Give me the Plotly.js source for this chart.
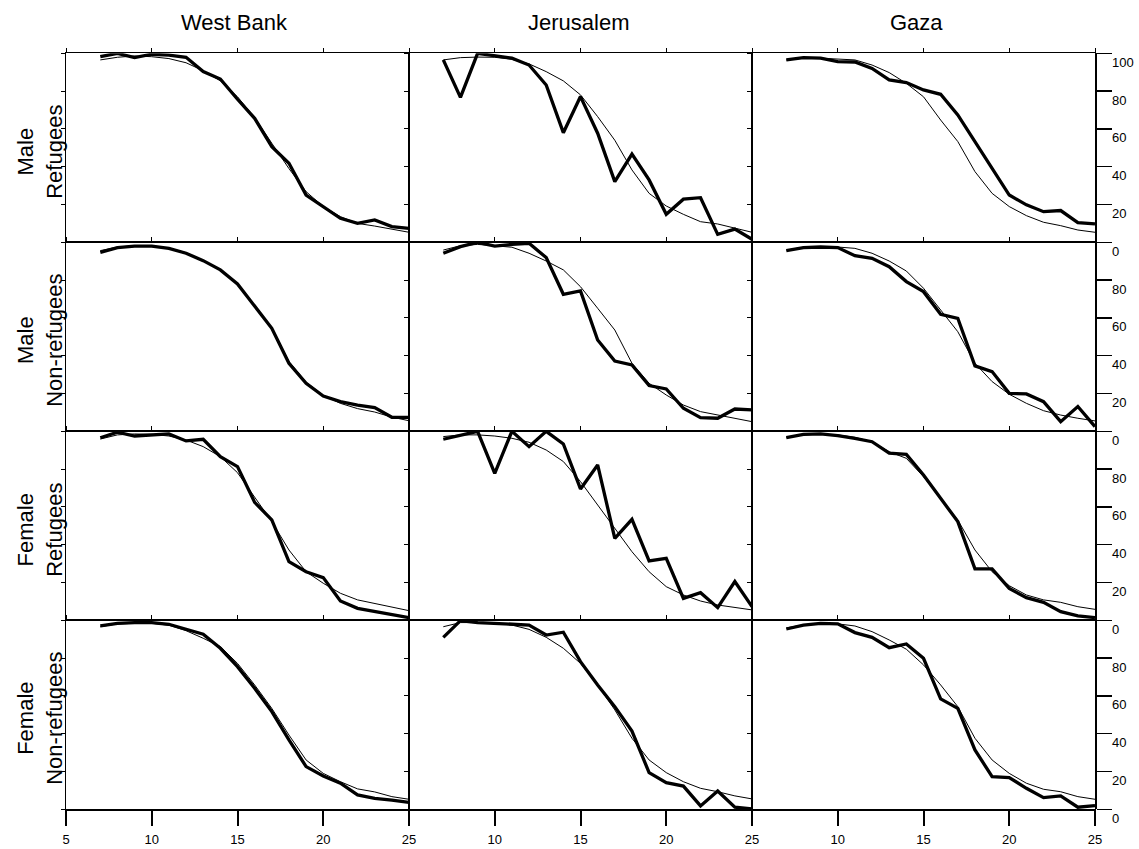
<!DOCTYPE html>
<html>
<head>
<meta charset="utf-8">
<script src="https://cdn.plot.ly/plotly-3.0.1.min.js"></script>
<style>body{margin:0;padding:0;background:#fff;}#chart{width:1139px;height:849px;}</style>
</head>
<body>
<div id="chart"></div>
<script>
// ---- data ----
const ages = [7,8,9,10,11,12,13,14,15,16,17,18,19,20,21,22,23,24,25];
const columnTitles = ['West Bank','Jerusalem','Gaza'];
const rowTitles = ['Male<br>Refugees','Male<br>Non-refugees','Female<br>Refugees','Female<br>Non-refugees'];
const xTickVals = [5,10,15,20,25];
const yTickVals = [0,20,40,60,80,100];

// observed (thick) and fitted (thin) curves, % still enrolled
const wbMaleRefObs = [98.2,100,97.7,99.5,99,97.9,90.3,86.4,75.7,65.6,50.6,41.8,25,18.9,12.7,10,11.8,8.3,7.4];
const wbMaleRefFit = [96.5,97.9,98.6,98.2,97.2,95,90.8,85.4,77,66,52.4,39,26.8,18.9,13.6,10,8.6,6.9,5.3];
const jeMaleRefObs = [96.5,76.7,100,98.6,97.4,93.8,83.2,58,77.1,57.7,32.1,46.7,33,14.8,22.8,23.6,4.2,7,1.6];
const jeMaleRefFit = [96.5,97.7,98,97.9,96.8,94.4,90.3,85.4,78,66.5,54,38.3,25.9,19.2,14.8,10.9,9.7,7.4,5.3];
const gzMaleRefObs = [96.5,97.7,97.4,95.6,95.4,92,85.9,84.5,80.6,78.3,67.4,53.3,39.2,25,19.8,16.2,16.8,10.4,9.7];
const gzMaleRefFit = [96.5,97.4,97.4,97,96.5,93.8,89.8,84.1,77,64.7,53.3,37.4,25.9,18.9,14.1,10.6,8.8,6.5,5.3];

const wbMaleNonObs = [94.7,97.2,98,98,96.8,94.2,90.3,85.4,78,66,54.5,36,25.4,18.7,15.7,13.9,12.5,7.4,7.4];
const wbMaleNonFit = [95.6,97.5,98.2,98,97,94.5,90.5,85.5,78,66.5,54,37,26,19,14.8,12,10.2,7.5,5.6];
const jeMaleNonObs = [94.2,97.7,100,98,98.9,99.5,91.9,72.5,74.3,48.3,37.2,35.1,24.2,22.4,12.2,7.2,6.9,11.8,11.3];
const jeMaleNonFit = [95.9,98.2,98.9,98.2,97.4,94.2,90.1,85.4,76.5,65.1,53.6,36,25.4,19.2,13.9,10.4,8.6,6.9,5.1];
const gzMaleNonObs = [95.6,97.2,97.5,97.2,92.9,91.5,87.1,79.2,73.9,61.9,59.8,34.6,31.6,20.1,19.8,15.7,5.1,13.1,2.5];
const gzMaleNonFit = [95.9,97.4,97.7,97.5,96.8,94.2,90.1,84.8,75.7,64.2,52.7,36,26.3,19.6,14.8,10.9,8.6,6.9,5.5];

const wbFemRefObs = [96.6,99.5,97.5,98.1,98.6,94.9,95.8,86.6,81.3,62.4,53.1,31,25.7,22.6,10.2,6.3,4.6,2.8,1.4];
const wbFemRefFit = [95.9,98.1,98.6,98.4,97.5,95.4,91.9,86.6,78.1,64.9,52.2,37.2,25.7,19.6,14.3,10.8,9,6.9,5.1];
const jeFemRefObs = [95.8,98.1,100,77.8,100,91.9,100,93.3,69.5,82.2,43.4,53.4,31.4,32.8,11.6,14.6,6.7,20.5,7.2];
const jeFemRefFit = [97.2,98.1,98.1,97.5,96.3,94.2,90.1,84,73.4,61,48.7,36.3,25.7,17.8,13.4,10.2,8.1,6.7,5.5];
const gzFemRefObs = [96.6,98.4,98.6,97.7,96.3,94.5,88.4,87.8,76.9,64.6,52.2,27.2,27.2,16.9,12,9.5,4.6,2.3,1.4];
const gzFemRefFit = [96.6,98.1,98.4,98.1,96.8,94.5,89.2,85.7,76,64.6,53.1,37.2,25.7,18.3,13.4,10.8,9.5,7.2,5.8];

const wbFemNonObs = [97,98.4,98.8,98.8,97.9,95.2,92.6,85.2,75.5,64,51.7,36.7,22.6,17.6,13.8,7.6,5.8,4.9,3.7];
const wbFemNonFit = [96.6,98.1,98.4,98.4,97.4,94.5,90.5,86.1,77.2,65.8,53.4,39.3,26.1,19,14.6,10.8,9.2,6.7,5.3];
const jeFemNonObs = [91,99.8,98.8,98.4,98.1,97.5,92.2,93.7,78.1,65.8,54.3,41.4,19.4,14.1,12.3,1.8,9.7,1.1,0.2];
const jeFemNonFit = [96.6,98.8,98.8,98.4,97.5,95.2,91,85.2,77.2,65.8,52.6,37.6,26.1,19.4,14.6,11.1,9.3,7.1,5.5];
const gzFemNonObs = [95.4,97.5,98.4,98.1,93.5,91,85.5,87.5,79.9,58.4,53.4,31.4,17.3,16.8,11.1,6.2,7.1,1.1,1.9];
const gzFemNonFit = [96,97.6,98.4,98.1,97,94,89.6,84.7,76.4,65.8,54.3,37.6,26.1,19,13.8,10.6,9.3,6.7,5.3];

const observed = [
  [wbMaleRefObs, jeMaleRefObs, gzMaleRefObs],
  [wbMaleNonObs, jeMaleNonObs, gzMaleNonObs],
  [wbFemRefObs, jeFemRefObs, gzFemRefObs],
  [wbFemNonObs, jeFemNonObs, gzFemNonObs]
];
const fitted = [
  [wbMaleRefFit, jeMaleRefFit, gzMaleRefFit],
  [wbMaleNonFit, jeMaleNonFit, gzMaleNonFit],
  [wbFemRefFit, jeFemRefFit, gzFemRefFit],
  [wbFemNonFit, jeFemNonFit, gzFemNonFit]
];

// ---- layout geometry ----
const W = 1139, H = 849;
const colPx = [[66,409],[409,752],[752,1095]];
const rowPx = [[53.3,242.3],[242.3,431.3],[431.3,620.3],[620.3,809.3]]; // top, bottom (from top)
const FONT = 'Liberation Sans, Arial, Helvetica, sans-serif';

const traces = [];
const layout = {
  width: W, height: H,
  margin: {l:0, r:0, t:0, b:0, pad:0},
  paper_bgcolor: '#fff', plot_bgcolor: 'rgba(0,0,0,0)',
  showlegend: false,
  font: {family: FONT, color: '#000', size: 13},
  annotations: []
};

for (let r = 0; r < 4; r++) {
  for (let c = 0; c < 3; c++) {
    const k = r*3 + c + 1;
    const xa = 'xaxis' + k, ya = 'yaxis' + k;
    const xd = [colPx[c][0]/W, colPx[c][1]/W];
    const yd = [(H - rowPx[r][1])/H, (H - rowPx[r][0])/H];
    layout[xa] = {
      domain: xd, anchor: 'y'+k, range: [5,25], side: 'top',
      tickmode: 'array', tickvals: xTickVals, showticklabels: false,
      ticks: 'outside', ticklen: 4, tickwidth: 1, tickcolor: '#000',
      showline: true, mirror: true, linecolor: '#000', linewidth: 1,
      showgrid: false, zeroline: false, fixedrange: true
    };
    layout[ya] = {
      domain: yd, anchor: 'x'+k, range: [0,100], side: 'left',
      tickmode: 'array', tickvals: yTickVals, showticklabels: false,
      ticks: 'outside', ticklen: 4, tickwidth: 1, tickcolor: '#000',
      showline: true, mirror: true, linecolor: '#000', linewidth: 1,
      showgrid: false, zeroline: false, fixedrange: true
    };
    traces.push({
      type: 'scatter', mode: 'lines', x: ages, y: fitted[r][c],
      xaxis: 'x'+k, yaxis: 'y'+k,
      line: {color: '#000', width: 1}, hoverinfo: 'skip'
    });
    traces.push({
      type: 'scatter', mode: 'lines', x: ages, y: observed[r][c],
      xaxis: 'x'+k, yaxis: 'y'+k,
      line: {color: '#000', width: 3.3}, hoverinfo: 'skip'
    });
  }
}

// bottom x axes with labels (overlaying bottom row)
for (let c = 0; c < 3; c++) {
  const base = 9 + c + 1; // panels 10,11,12
  const k = 13 + c;
  layout['xaxis' + k] = {
    overlaying: 'x' + base, anchor: 'y' + base, range: [5,25], side: 'bottom',
    tickmode: 'array', tickvals: xTickVals,
    ticktext: xTickVals.map(v => (c > 0 && v === 5) ? '' : String(v)),
    ticks: 'outside', ticklen: 15, tickwidth: 2, tickcolor: '#000',
    tickfont: {family: FONT, size: 13, color: '#000'}, ticklabelstandoff: 3,
    showline: true, linecolor: '#000', linewidth: 1.5,
    showgrid: false, zeroline: false, fixedrange: true
  };
  traces.push({type:'scatter', mode:'lines', x:[], y:[], xaxis:'x'+k, yaxis:'y'+base, hoverinfo:'skip'});
}

// right y axes with labels (overlaying right column)
for (let r = 0; r < 4; r++) {
  const base = r*3 + 3;
  const k = 16 + r;
  layout['yaxis' + k] = {
    overlaying: 'y' + base, anchor: 'x' + base, range: [0,100], side: 'right',
    tickmode: 'array', tickvals: yTickVals,
    ticktext: yTickVals.map(v => (r > 0 && v === 100) ? '' : String(v)),
    ticks: 'outside', ticklen: 15, tickwidth: 1.5, tickcolor: '#000',
    tickfont: {family: FONT, size: 13, color: '#000'}, ticklabelshift: 9, ticklabelstandoff: -2,
    showline: true, linecolor: '#000', linewidth: 1.5,
    showgrid: false, zeroline: false, fixedrange: true
  };
  traces.push({type:'scatter', mode:'lines', x:[], y:[], xaxis:'x'+base, yaxis:'y'+k, hoverinfo:'skip'});
}

// column titles
const colTitleX = [235, 578, 916];
columnTitles.forEach((t, c) => {
  layout.annotations.push({
    text: t, xref: 'paper', yref: 'paper',
    x: colTitleX[c]/W, y: (H - 23)/H, xanchor: 'center', yanchor: 'middle',
    showarrow: false, font: {family: FONT, size: 22, color: '#000'}
  });
});
// row titles
rowTitles.forEach((t, r) => {
  const yc = (rowPx[r][0] + rowPx[r][1])/2 + 4;
  layout.annotations.push({
    text: t, xref: 'paper', yref: 'paper',
    x: 40/W, y: (H - yc)/H, xanchor: 'center', yanchor: 'middle',
    textangle: -90, showarrow: false,
    font: {family: FONT, size: 22, color: '#000'}
  });
});

Plotly.newPlot('chart', traces, layout, {displayModeBar: false, staticPlot: true});
</script>
</body>
</html>
